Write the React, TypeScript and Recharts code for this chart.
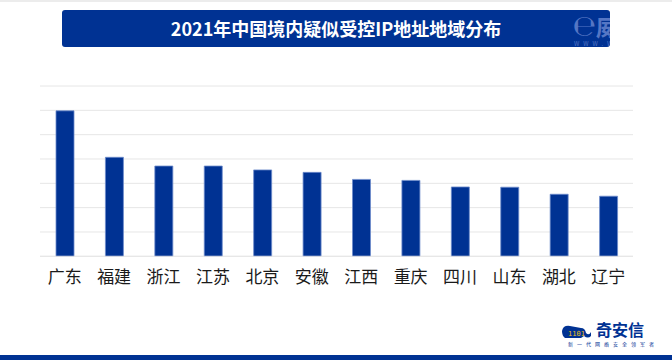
import { BarChart, Bar, XAxis, YAxis, CartesianGrid } from "recharts";

const provinces = ["广东", "福建", "浙江", "江苏", "北京", "安徽", "江西", "重庆", "四川", "山东", "湖北", "辽宁"];
const ipCounts = [598, 407, 371, 371, 355, 345, 316, 312, 285, 284, 255, 247];
const gridTicks = [0, 100, 200, 300, 400, 500, 600, 700];

const data = provinces.map((name, i) => ({ name, value: ipCounts[i] }));

const BLUE = "#003293";
const FONT = '"Noto Sans CJK SC", "Noto Sans", sans-serif';

export default function App() {
  return (
    <div
      style={{
        position: "absolute",
        left: 0,
        top: 0,
        width: 672,
        height: 360,
        background: "#fff",
        overflow: "hidden",
        fontFamily: FONT,
      }}
    >
      {/* faint slide edge at top */}
      <div style={{ position: "absolute", left: 0, top: 0, width: 672, height: 2, background: "#ececec" }} />

      {/* title banner */}
      <div
        style={{
          position: "absolute",
          left: 62,
          top: 10,
          width: 548,
          height: 37,
          background: BLUE,
          borderRadius: 3,
          overflow: "hidden",
        }}
      >
        <div
          style={{
            position: "absolute",
            left: 0,
            right: 0,
            top: 0,
            lineHeight: "37px",
            textAlign: "center",
            color: "#fff",
            fontWeight: 700,
            fontSize: 18,
            whiteSpace: "nowrap",
          }}
        >
          2021年中国境内疑似受控IP地址地域分布
        </div>
        {/* watermark, cut off by the banner edge */}
        <div
          style={{
            position: "absolute",
            left: 511,
            top: 1,
            color: "#5576c4",
            fontWeight: 700,
            fontSize: 25,
            whiteSpace: "nowrap",
            lineHeight: "28px",
          }}
        >
          ℮威胁
        </div>
        <div
          style={{
            position: "absolute",
            left: 512,
            top: 30,
            color: "#5576c4",
            fontSize: 6,
            letterSpacing: 4,
            whiteSpace: "nowrap",
            lineHeight: "7px",
          }}
        >
          WWW.WESEC
        </div>
      </div>

      <div style={{ position: "absolute", left: 0, top: 0 }}>
        <BarChart
          width={672}
          height={360}
          data={data}
          margin={{ top: 86, right: 39, left: 40, bottom: 0 }}
          barSize={18}
        >
          <CartesianGrid vertical={false} stroke="#e6e6e6" strokeWidth={1} />
          <XAxis
            dataKey="name"
            height={103.7}
            axisLine={{ stroke: "#e6e6e6" }}
            tickLine={false}
            tickMargin={9}
            interval={0}
            tick={{ fontSize: 17, fill: "#1a1a1a", fontFamily: FONT }}
          />
          <YAxis hide domain={[0, 700]} ticks={gridTicks} />
          <Bar
            dataKey="value"
            fill={BLUE}
            stroke="#6d8ccc"
            strokeWidth={0.8}
            isAnimationActive={false}
          />
        </BarChart>
      </div>

      {/* brand logo bottom right */}
      <div style={{ position: "absolute", left: 561, top: 321, width: 32, height: 16 }}>
        <svg width={32} height={16} viewBox="0 0 32 16">
          <path d="M1 7 Q2 1 9 2 L20 4 Q24 4 25 9 Q28 12 30 8 L30 12 Q27 15 23 12 L20 14 L4 14 Q1 12 1 7 Z" fill={BLUE} />
          <text x={7} y={12} fontSize={7} fill="#f0c020" fontFamily="DejaVu Sans Mono">1101</text>
        </svg>
      </div>
      <div
        style={{
          position: "absolute",
          left: 596,
          top: 319,
          color: BLUE,
          fontWeight: 700,
          fontSize: 16,
          lineHeight: "20px",
          whiteSpace: "nowrap",
        }}
      >
        奇安信
      </div>
      <div
        style={{
          position: "absolute",
          left: 568,
          top: 341,
          color: BLUE,
          fontSize: 5,
          letterSpacing: 4,
          whiteSpace: "nowrap",
          lineHeight: "6px",
        }}
      >
        新一代网络安全领军者
      </div>

      {/* bottom stripe */}
      <div style={{ position: "absolute", left: 0, top: 355, width: 672, height: 5, background: BLUE }} />
    </div>
  );
}
